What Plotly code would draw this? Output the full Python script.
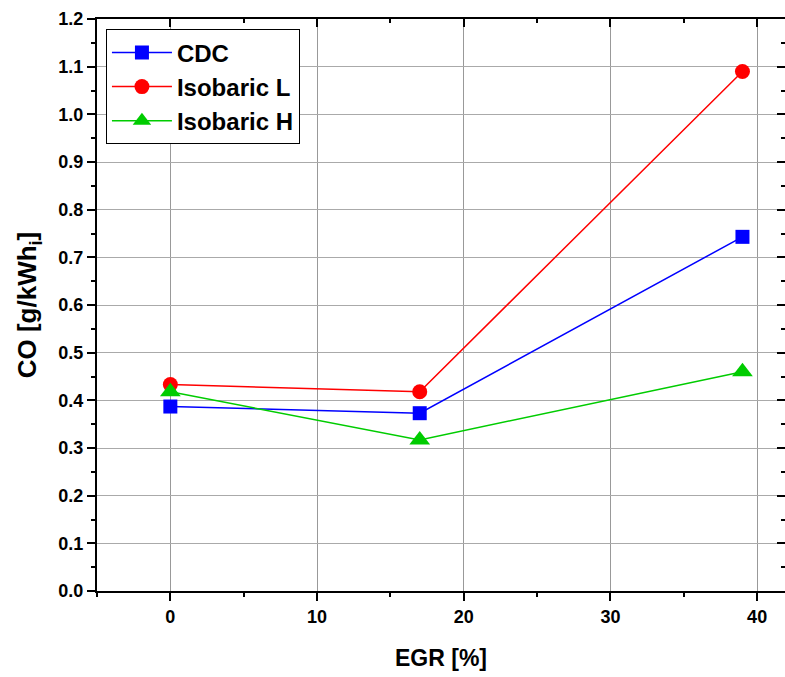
import plotly.graph_objects as go

egr = [0, 17, 39]
cdc = [0.387, 0.373, 0.743]
iso_l = [0.433, 0.418, 1.090]
iso_h = [0.418, 0.317, 0.460]

series = [
    ("CDC", cdc, "#0000ff", "square", 14),
    ("Isobaric L", iso_l, "#ff0000", "circle", 15),
    ("Isobaric H", iso_h, "#00cc00", "triangle-up", 18),
]

fig = go.Figure()
for name, vals, col, sym, sz in series:
    fig.add_trace(go.Scatter(
        x=egr, y=vals, name=name, mode="lines+markers",
        line=dict(color=col, width=1.5),
        marker=dict(symbol=sym, size=sz, color=col, line=dict(width=0)),
    ))

font_family = "Liberation Sans, Arial, sans-serif"
tickfont = dict(family=font_family, size=18, color="black", weight="bold")

fig.update_layout(
    width=785, height=677,
    margin=dict(l=97, r=0, t=19, b=86),
    plot_bgcolor="white", paper_bgcolor="white",
    font=dict(family=font_family, color="black"),
    showlegend=True,
    legend=dict(
        x=0.013, y=0.982, xanchor="left", yanchor="top",
        bgcolor="white", bordercolor="black", borderwidth=1,
        font=dict(family=font_family, size=24, color="black", weight="bold"),
        itemwidth=60, tracegroupgap=0,
    ),
    xaxis=dict(
        range=[-5, 41.9], tickmode="linear", tick0=0, dtick=10,
        showgrid=True, gridcolor="#999999", gridwidth=1,
        zeroline=False, showline=True, linecolor="black", linewidth=2,
        ticks="outside", ticklen=8, tickwidth=1.5, tickcolor="black",
        minor=dict(dtick=5, tick0=0, ticks="outside", ticklen=4, tickwidth=1.5, tickcolor="black", showgrid=False),
        tickfont=tickfont,
        title=dict(text="EGR [%]", font=dict(family=font_family, size=23, color="black", weight="bold"), standoff=24),
    ),
    yaxis=dict(
        range=[0, 1.2], tickmode="linear", tick0=0, dtick=0.1, tickformat=".1f",
        showgrid=True, gridcolor="#aaaaaa", gridwidth=1,
        zeroline=False, showline=True, linecolor="black", linewidth=2,
        ticks="outside", ticklen=8, tickwidth=1.5, tickcolor="black",
        minor=dict(dtick=0.05, tick0=0, ticks="outside", ticklen=4, tickwidth=1.5, tickcolor="black", showgrid=False),
        tickfont=tickfont,
        title=dict(text="CO [g/kWh<sub>i</sub>]", font=dict(family=font_family, size=26, color="black", weight="bold"), standoff=14),
    ),
    xaxis2=dict(
        overlaying="x", side="top", matches="x", range=[-5, 41.9],
        tickmode="linear", tick0=0, dtick=10, showgrid=False, zeroline=False,
        showline=True, linecolor="black", linewidth=2,
        ticks="inside", ticklen=8, tickwidth=1.5, tickcolor="black",
        minor=dict(dtick=5, tick0=0, ticks="inside", ticklen=4, tickwidth=1.5, tickcolor="black"),
        showticklabels=False,
    ),
    yaxis2=dict(
        overlaying="y", side="right", matches="y", range=[0, 1.2],
        tickmode="linear", tick0=0, dtick=0.1, showgrid=False, zeroline=False,
        showline=True, linecolor="black", linewidth=2,
        ticks="inside", ticklen=8, tickwidth=1.5, tickcolor="black",
        minor=dict(dtick=0.05, tick0=0, ticks="inside", ticklen=4, tickwidth=1.5, tickcolor="black"),
        showticklabels=False,
    ),
)
# invisible trace to activate secondary axes
fig.add_trace(go.Scatter(x=[egr[0]], y=[cdc[0]], xaxis="x2", yaxis="y2",
                         mode="markers", marker=dict(opacity=0), showlegend=False, hoverinfo="skip"))

fig.write_html("out.html")
